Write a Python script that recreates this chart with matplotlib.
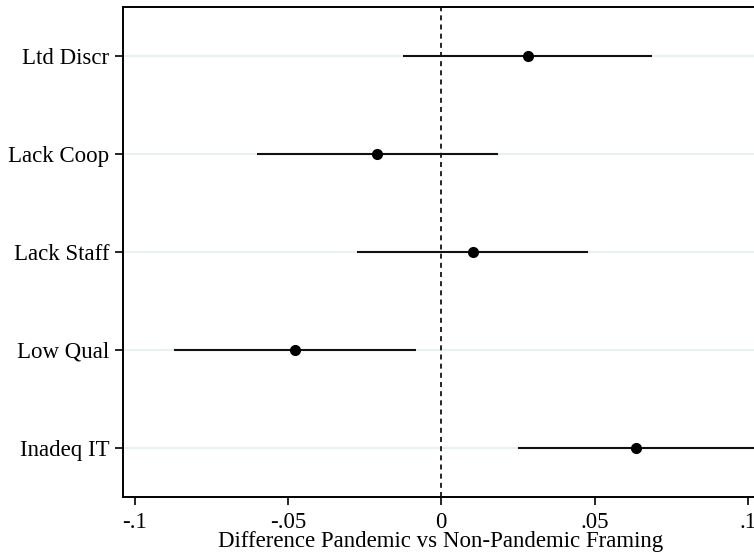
import numpy as np
import matplotlib
matplotlib.use("Agg")
import matplotlib.pyplot as plt

# Koeffisienter og konfidensintervall (lest av figuren)
labels = ["Ltd Discr", "Lack Coop", "Lack Staff", "Low Qual", "Inadeq IT"]
coef = [0.0282, -0.0208, 0.0104, -0.0477, 0.0634]
lo = [-0.0125, -0.0600, -0.0273, -0.0870, 0.0250]
hi = [0.0688, 0.0184, 0.0480, -0.0083, 0.1030]

xticks = [-0.1, -0.05, 0, 0.05, 0.1]
xticklabels = ["-.1", "-.05", "0", ".05", ".1"]

plt.rcParams["font.family"] = ["Liberation Serif", "DejaVu Serif"]
fs = 16.5

fig = plt.figure(figsize=(7.54, 5.54), dpi=100)
ax = fig.add_axes([122.6/754, 1 - 497/554, 1 - 122.6/754 + 0.002, (497 - 6.7)/554])

y = np.arange(1, len(labels) + 1)

for yi in y:
    ax.axhline(yi, color="#e8f0f2", lw=1.4, zorder=0)

ax.axvline(0, color="black", lw=1.2, ls=(0, (3, 2.5)), zorder=1)
ax.hlines(y, lo, hi, color="#111111", lw=1.5, zorder=2)
ax.plot(coef, y, "o", color="black", ms=7, zorder=3)

ax.set_xlim(-0.1039, 0.1025)
ax.set_ylim(5.5, 0.5)
ax.set_yticks(y)
ax.set_yticklabels(labels, fontsize=fs)
ax.set_xticks(xticks)
ax.set_xticklabels(xticklabels, fontsize=fs)
ax.tick_params(axis="y", length=6, width=1.2, pad=3.5)
ax.tick_params(axis="x", length=6, width=1.2, pad=4.5)

# x-tittel sentrert under plottet
fig.text(441/754, 1 - 547/554, "Difference Pandemic vs Non-Pandemic Framing",
         fontsize=fs, ha="center", va="baseline")

for s in ["left", "bottom", "top"]:
    ax.spines[s].set_linewidth(1.4)
ax.spines["right"].set_visible(False)

fig.savefig("out.png", dpi=100)
